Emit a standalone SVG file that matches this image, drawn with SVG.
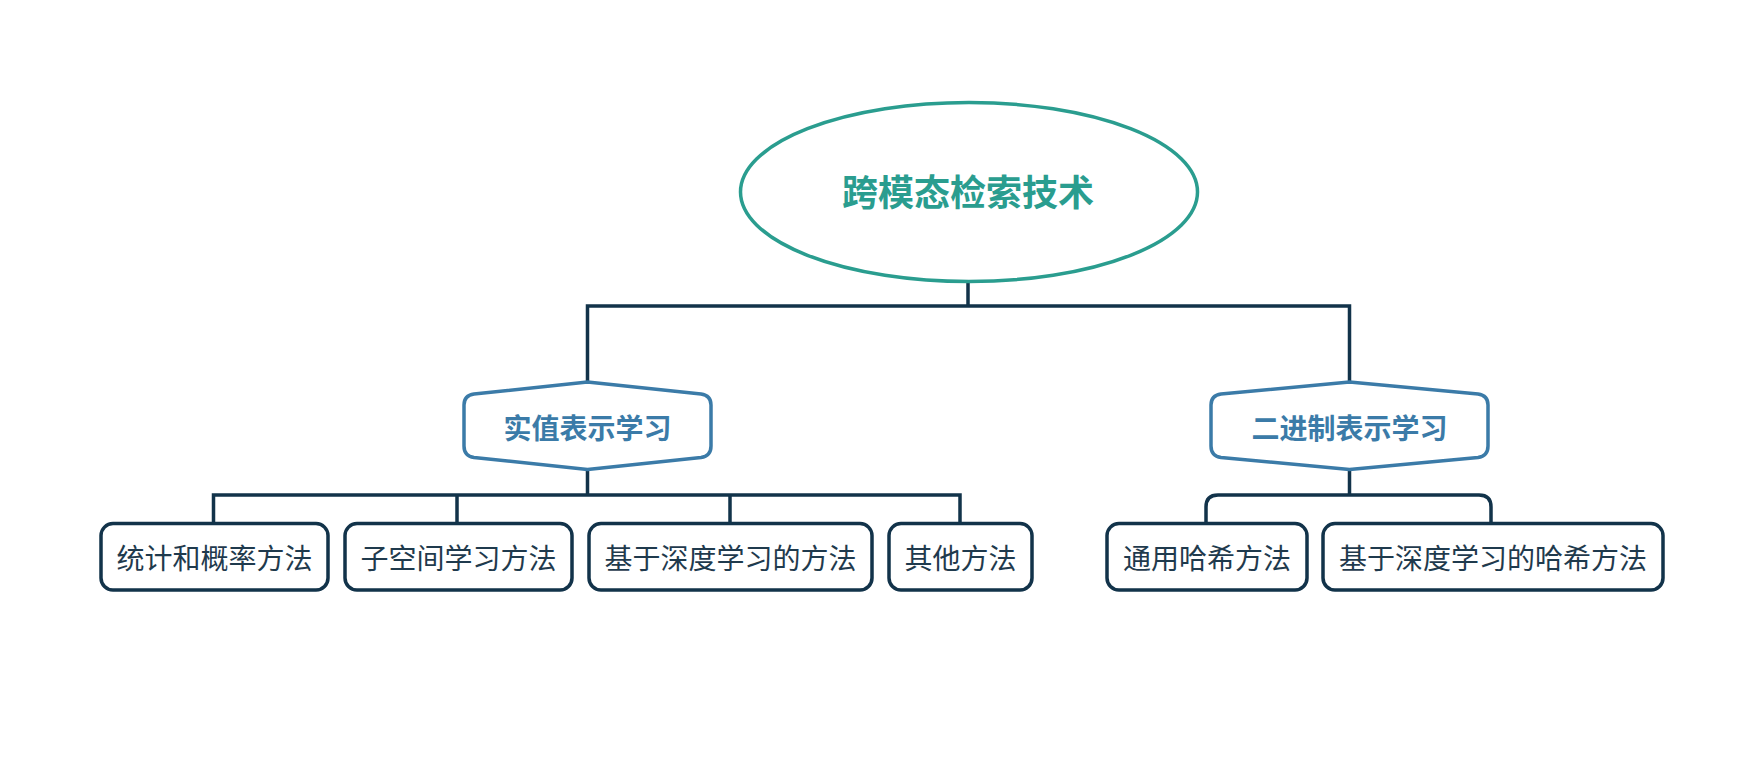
<svg xmlns="http://www.w3.org/2000/svg" width="1762" height="765" viewBox="0 0 1762 765">
<style>
.conn{fill:none;stroke:#12334a;stroke-width:3.5;}
.root{fill:#ffffff;stroke:#2a9d8f;stroke-width:3.5;}
.roottxt{font-family:"Noto Sans CJK SC","Noto Sans CJK TC",sans-serif;font-size:36px;font-weight:bold;fill:#2a9d8f;text-anchor:middle;dominant-baseline:central;}
.hex{fill:#ffffff;stroke:#3b7ba8;stroke-width:3.5;stroke-linejoin:round;}
.hextxt{font-family:"Noto Sans CJK SC","Noto Sans CJK TC",sans-serif;font-size:28px;font-weight:bold;fill:#3b7ba8;text-anchor:middle;dominant-baseline:central;}
.box{fill:#ffffff;stroke:#12334a;stroke-width:3.5;}
.boxtxt{font-family:"Noto Sans CJK SC","Noto Sans CJK TC",sans-serif;font-size:28px;fill:#1f3a4d;text-anchor:middle;dominant-baseline:central;}
</style>
<rect width="1762" height="765" fill="#ffffff"/>
<g id="connectors">
<path class="conn" d="M968,281 V306 M587.5,382 V306 H1349.5 V382"/>
<path class="conn" d="M587.5,470 V495 M213.5,523.6 V495 H960 V523.6 M457,495 V523.6 M730,495 V523.6"/>
<path class="conn" d="M1349.5,470 V495 M1206,523.6 V507 Q1206,495 1218,495 H1479 Q1491,495 1491,507 V523.6"/>
</g>
<g id="root">
<ellipse class="root" cx="969" cy="192" rx="228.5" ry="89.5"/>
<text class="roottxt" x="968" y="190">跨模态检索技术</text>
</g>
<g id="real">
<path class="hex" d="M587.5,382 L701,394 Q711,395.5 711,405 V446 Q711,456 701,457.5 L587.5,469.5 L474,457.5 Q464,456 464,446 V405 Q464,395.5 474,394 Z"/>
<text class="hextxt" x="587.5" y="427">实值表示学习</text>
</g>
<g id="binary">
<path class="hex" d="M1349.5,382 L1478,394 Q1488,395.5 1488,405 V446 Q1488,456 1478,457.5 L1349.5,469.5 L1221,457.5 Q1211,456 1211,446 V405 Q1211,395.5 1221,394 Z"/>
<text class="hextxt" x="1349.5" y="427">二进制表示学习</text>
</g>
<g id="stat">
<rect class="box" x="101" y="523.6" width="227" height="66.4" rx="12"/>
<text class="boxtxt" x="214.5" y="556.8">统计和概率方法</text>
</g>
<g id="subspace">
<rect class="box" x="345" y="523.6" width="227" height="66.4" rx="12"/>
<text class="boxtxt" x="458.5" y="556.8">子空间学习方法</text>
</g>
<g id="deep">
<rect class="box" x="589" y="523.6" width="283" height="66.4" rx="12"/>
<text class="boxtxt" x="730.5" y="556.8">基于深度学习的方法</text>
</g>
<g id="other">
<rect class="box" x="889" y="523.6" width="143" height="66.4" rx="12"/>
<text class="boxtxt" x="960.5" y="556.8">其他方法</text>
</g>
<g id="hash">
<rect class="box" x="1107" y="523.6" width="200" height="66.4" rx="12"/>
<text class="boxtxt" x="1207" y="556.8">通用哈希方法</text>
</g>
<g id="deephash">
<rect class="box" x="1323" y="523.6" width="340" height="66.4" rx="12"/>
<text class="boxtxt" x="1493" y="556.8">基于深度学习的哈希方法</text>
</g>
</svg>
